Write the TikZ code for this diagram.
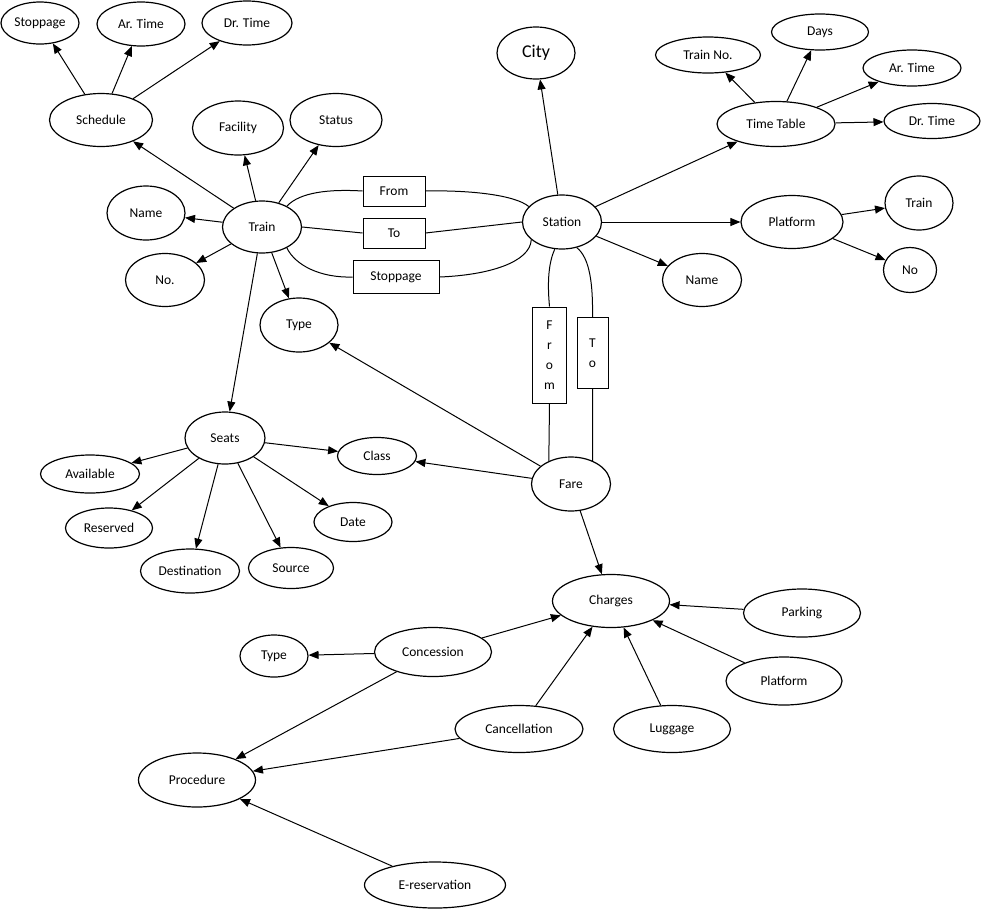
\documentclass[tikz,border=0pt]{standalone}
\usepackage{fontspec}
\setmainfont{Carlito}
\usetikzlibrary{arrows.meta,positioning,shapes.geometric}

\tikzset{
  attr/.style 2 args={ellipse,draw,line width=1.2pt,minimum width=#1,minimum height=#2,inner sep=0pt,font=\fontsize{13.5}{15}\selectfont},
  rel/.style 2 args={rectangle,draw,line width=1pt,minimum width=#1,minimum height=#2,inner sep=0pt,font=\fontsize{13.5}{15}\selectfont},
  arr/.style={-{Triangle[length=10pt,width=8pt]},line width=1pt},
  link/.style={line width=1pt}
}

\begin{document}
\begin{tikzpicture}[x=1pt,y=-1pt]
  \useasboundingbox (0,0) rectangle (982,911);

  % schedule and its attributes
  \node[attr={78}{42}] (schStop) at (40,23) {Stoppage};
  \node[attr={88}{44}] (schAr) at (141,24) {Ar. Time};
  \node[attr={90}{44}] (schDr) at (247,23) {Dr. Time};
  \node[attr={103}{53}] (sched) at (101,120) {Schedule};

  % train
  \node[attr={91}{54}] (trFac) at (238,128) {Facility};
  \node[attr={92}{53}] (trStat) at (336,120) {Status};
  \node[attr={78}{54}] (trName) at (146,213) {Name};
  \node[attr={79}{52}] (train) at (262,227) {Train};
  \node[attr={79}{53}] (trNo) at (165,280) {No.};
  \node[attr={78}{54}] (trType) at (299,325) {Type};

  % relations between train and station
  \node[rel={62}{30}] (rFrom) at (394,191) {From};
  \node[rel={62}{30}] (rTo) at (394,233) {To};
  \node[rel={86}{33}] (rStop) at (396,277) {Stoppage};

  % station
  \node[attr={79}{54}] (station) at (562,222) {Station};
  \node[attr={78}{52},font=\fontsize{18}{20}\selectfont] (city) at (536,53) {City};
  \node[attr={118}{45}] (timetab) at (776,124) {Time Table};
  \node[attr={105}{36}] (ttNo) at (708,55) {Train No.};
  \node[attr={97}{36}] (ttDays) at (820,32) {Days};
  \node[attr={98}{36}] (ttAr) at (912,68) {Ar. Time};
  \node[attr={96}{35}] (ttDr) at (932,121) {Dr. Time};
  \node[attr={102}{53}] (platf) at (792,222) {Platform};
  \node[attr={68}{54}] (pfTrain) at (919,203) {Train};
  \node[attr={53}{45}] (pfNo) at (910,270) {No};
  \node[attr={79}{53}] (stName) at (702,280) {Name};

  % relations between station and fare
  \node[rel={34}{96},align=center,font=\fontsize{13.5}{20}\selectfont] (vFrom) at (549.5,355) {F\\r\\o\\m};
  \node[rel={31}{71},align=center,font=\fontsize{13.5}{20}\selectfont] (vTo) at (592.5,353) {T\\o};

  % seats and fare
  \node[attr={80}{52}] (seats) at (225,438) {Seats};
  \node[attr={79}{37}] (class) at (377,456) {Class};
  \node[attr={99}{38}] (avail) at (90,474) {Available};
  \node[attr={87}{40}] (resv) at (109,528) {Reserved};
  \node[attr={99}{44}] (dest) at (190,571) {Destination};
  \node[attr={85}{41}] (src) at (291,568) {Source};
  \node[attr={78}{39}] (date) at (353,522) {Date};
  \node[attr={79}{54}] (fare) at (571,484) {Fare};

  % charges
  \node[attr={117}{53}] (charges) at (611,601) {Charges};
  \node[attr={117}{48}] (parking) at (802,613) {Parking};
  \node[attr={116}{48}] (chPlat) at (784,681) {Platform};
  \node[attr={117}{47}] (lugg) at (672,729) {Luggage};
  \node[attr={128}{47}] (cancel) at (519,729) {Cancellation};
  \node[attr={117}{49}] (concess) at (433,652) {Concession};
  \node[attr={68}{42}] (cnType) at (274,656) {Type};
  \node[attr={117}{54}] (proc) at (197,780) {Procedure};
  \node[attr={141}{46}] (eres) at (435,885) {E-reservation};

  % arrows
  \draw[arr] (sched) -- (schStop);
  \draw[arr] (sched) -- (schAr);
  \draw[arr] (sched) -- (schDr);
  \draw[arr] (train) -- (sched);
  \draw[arr] (train) -- (trFac);
  \draw[arr] (train) -- (trStat);
  \draw[arr] (train) -- (trName);
  \draw[arr] (train) -- (trNo);
  \draw[arr] (train) -- (trType);
  \draw[arr] (train) -- (seats);
  \draw[arr] (station) -- (city);
  \draw[arr] (station) -- (timetab);
  \draw[arr] (station) -- (platf);
  \draw[arr] (station) -- (stName);
  \draw[arr] (timetab) -- (ttNo);
  \draw[arr] (timetab) -- (ttDays);
  \draw[arr] (timetab) -- (ttAr);
  \draw[arr] (timetab) -- (ttDr);
  \draw[arr] (platf) -- (pfTrain);
  \draw[arr] (platf) -- (pfNo);
  \draw[arr] (seats) -- (class);
  \draw[arr] (seats) -- (avail);
  \draw[arr] (seats) -- (resv);
  \draw[arr] (seats) -- (dest);
  \draw[arr] (seats) -- (src);
  \draw[arr] (seats) -- (date);
  \draw[arr] (fare) -- (trType);
  \draw[arr] (fare) -- (class);
  \draw[arr] (fare) -- (charges);
  \draw[arr] (concess) -- (charges);
  \draw[arr] (concess) -- (cnType);
  \draw[arr] (concess) -- (proc);
  \draw[arr] (cancel) -- (charges);
  \draw[arr] (cancel) -- (proc);
  \draw[arr] (lugg) -- (charges);
  \draw[arr] (chPlat) -- (charges);
  \draw[arr] (parking) -- (charges);
  \draw[arr] (eres) -- (proc);

  % relation lines
  \draw[link] (train.40) .. controls (300,192) and (330,189) .. (rFrom.west);
  \draw[link] (rFrom.east) .. controls (470,190) and (515,195) .. (station.155);
  \draw[link] (train.east) -- (rTo.west);
  \draw[link] (rTo.east) -- (station.west);
  \draw[link] (train.-40) .. controls (295,265) and (320,278) .. (rStop.west);
  \draw[link] (rStop.east) .. controls (490,275) and (530,262) .. (station.210);
  \draw[link] (station.255) .. controls (549,262) and (547,280) .. (vFrom.north);
  \draw[link] (vFrom.south) -- (fare.134);
  \draw[link] (station.300) .. controls (590,258) and (593,285) .. (vTo.north);
  \draw[link] (vTo.south) -- (fare.47);
\end{tikzpicture}
\end{document}
